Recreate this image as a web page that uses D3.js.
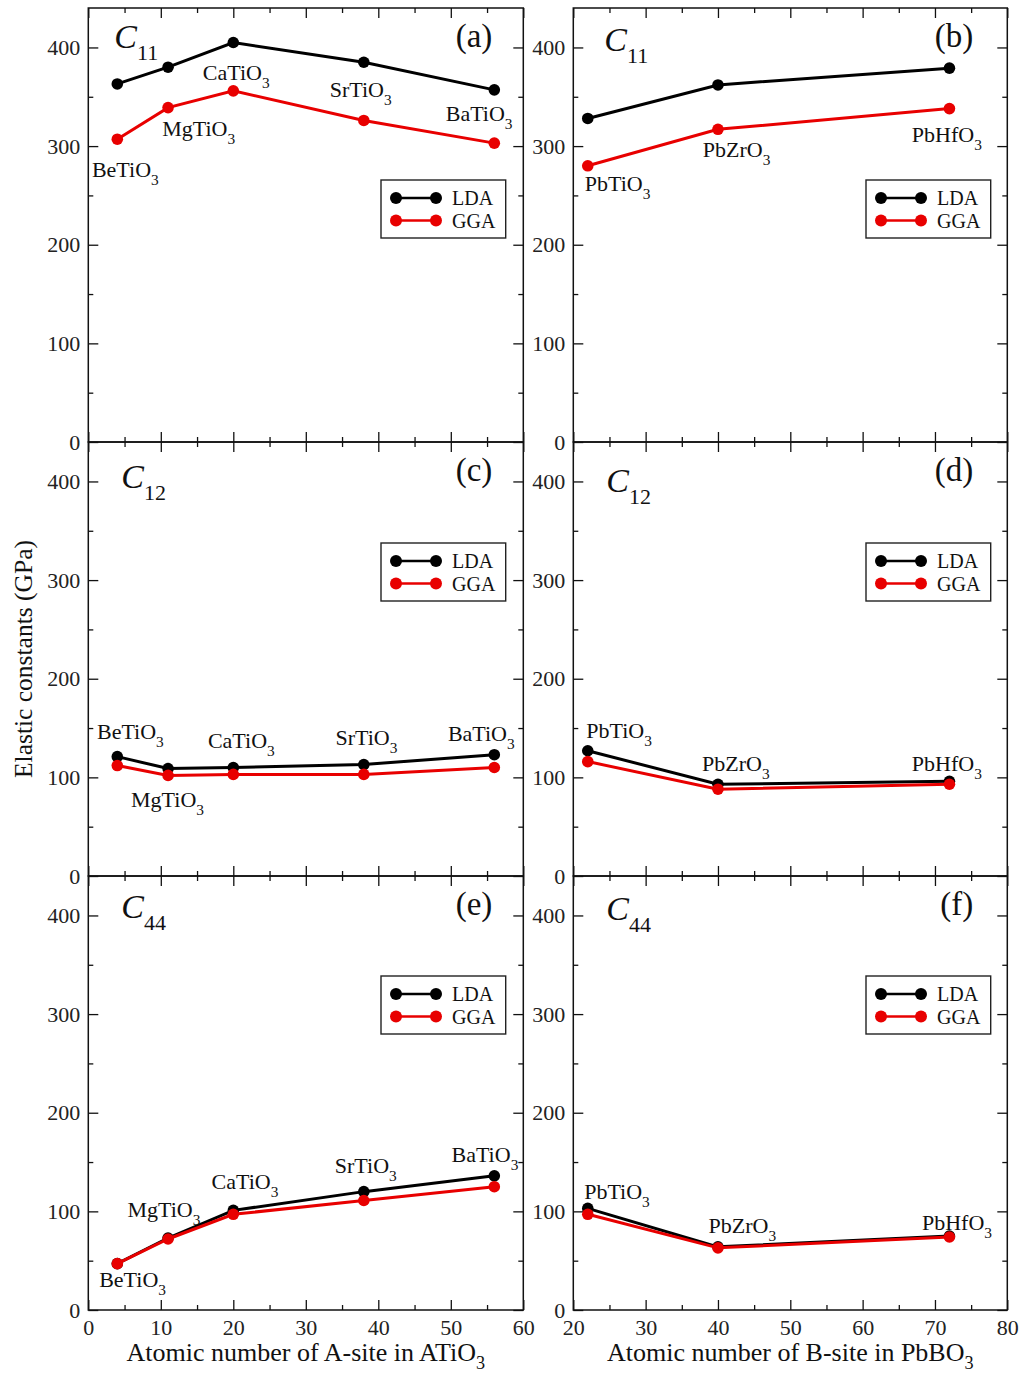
<!DOCTYPE html>
<html>
<head>
<meta charset="utf-8">
<script src="https://cdn.jsdelivr.net/npm/d3@7"></script>
<style>
  body { margin: 0; background: #fff; }
  svg { display: block; font-family: "Liberation Serif", "Times New Roman", serif; }
</style>
</head>
<body>
<svg width="1024" height="1376"></svg>
<script>
const width = 1024, height = 1376;
const svg = d3.select("svg");

// atomic numbers and compounds
const aSiteZ = [4, 11, 20, 38, 56];
const bSiteZ = [22, 40, 72];
const aSiteNames = ["BeTiO", "MgTiO", "CaTiO", "SrTiO", "BaTiO"];
const bSiteNames = ["PbTiO", "PbZrO", "PbHfO"];

// elastic constants (GPa)
const c11A_LDA = [363, 380, 405, 385, 357];
const c11A_GGA = [307, 339, 356, 326, 303];
const c11B_LDA = [328, 362, 379];
const c11B_GGA = [280, 317, 338];
const c12A_LDA = [121, 109, 110, 113, 123];
const c12A_GGA = [112, 102, 103, 103, 110];
const c12B_LDA = [127, 93, 96];
const c12B_GGA = [116, 88, 93];
const c44A_LDA = [47, 73, 101, 120, 136];
const c44A_GGA = [47, 72, 97, 111, 125];
const c44B_LDA = [103, 64, 75];
const c44B_GGA = [97, 63, 74];

// ticks
const xTicksA = [0, 10, 20, 30, 40, 50, 60];
const xTicksB = [20, 30, 40, 50, 60, 70, 80];
const yTicks = [0, 100, 200, 300, 400];
const seriesNames = ["LDA", "GGA"];
const seriesColors = ["#000000", "#e80000"];

// where the compound names sit, in data units [x, y]
const labC11A = [[0.5, 269], [10.2, 310], [15.8, 367], [33.3, 350], [49.3, 325]];
const labC11B = [[21.6, 254], [37.9, 289], [66.8, 304]];
const labC12A = [[1.2, 139], [5.9, 70], [16.5, 130], [34.1, 133], [49.6, 137]];
const labC12B = [[21.8, 140], [37.8, 106], [66.8, 106]];
const labC44A = [[1.5, 23], [5.4, 94], [17.0, 123], [34.0, 139], [50.1, 150]];
const labC44B = [[21.5, 113], [38.7, 78], [68.2, 81]];

// layout
const colX = [[88.3, 523.3], [573.3, 1007.3]];
const rowTop = [8, 442, 876];
const rowH = 434;
const xDomains = [[0, 60], [20, 80]];
const legendTop = [172, 101, 100];
const letterRight = [31, 34];

const panels = [
  { row: 0, col: 0, sub: "11", letter: "(a)", lda: c11A_LDA, gga: c11A_GGA, lab: labC11A, tdx: 26, tdy: 40 },
  { row: 0, col: 1, sub: "11", letter: "(b)", lda: c11B_LDA, gga: c11B_GGA, lab: labC11B, tdx: 31, tdy: 43 },
  { row: 1, col: 0, sub: "12", letter: "(c)", lda: c12A_LDA, gga: c12A_GGA, lab: labC12A, tdx: 33, tdy: 46 },
  { row: 1, col: 1, sub: "12", letter: "(d)", lda: c12B_LDA, gga: c12B_GGA, lab: labC12B, tdx: 33, tdy: 50 },
  { row: 2, col: 0, sub: "44", letter: "(e)", lda: c44A_LDA, gga: c44A_GGA, lab: labC44A, tdx: 33, tdy: 42 },
  { row: 2, col: 1, sub: "44", letter: "(f)", lda: c44B_LDA, gga: c44B_GGA, lab: labC44B, tdx: 33, tdy: 44 }
];

// text with a subscript "3"
function formula(sel, name, size) {
  sel.append("tspan").text(name);
  sel.append("tspan")
    .attr("dy", 8)
    .attr("font-size", size * 0.7)
    .text("3");
}

function styleAxis(g, fontSize) {
  g.select(".domain").remove();
  g.selectAll(".tick line").attr("stroke", "#111").attr("stroke-width", 1.3);
  g.selectAll(".tick text")
    .attr("fill", "#222")
    .attr("font-size", fontSize)
    .attr("font-family", "Liberation Serif, Times New Roman, serif");
}

panels.forEach(p => {
  const [x0, x1] = colX[p.col];
  const y0 = rowTop[p.row], y1 = y0 + rowH;
  const x = d3.scaleLinear().domain(xDomains[p.col]).range([x0, x1]);
  const y = d3.scaleLinear().domain([0, 440]).range([y1, y0]);
  const zs = p.col === 0 ? aSiteZ : bSiteZ;
  const names = p.col === 0 ? aSiteNames : bSiteNames;
  const xMajor = p.col === 0 ? xTicksA : xTicksB;
  const xMinor = x.ticks(12).filter(v => v % 10 !== 0);
  const yMinor = y.ticks(8).filter(v => v % 100 !== 0);

  const g = svg.append("g");

  // === ticks on all four sides, pointing inward ===
  g.append("g")
    .attr("transform", `translate(0,${y1})`)
    .call(d3.axisBottom(x).tickValues(xMajor).tickSize(-10).tickPadding(9)
      .tickFormat(p.row === 2 ? d3.format("d") : ""))
    .call(a => styleAxis(a, 22));
  g.append("g")
    .attr("transform", `translate(0,${y1})`)
    .call(d3.axisBottom(x).tickValues(xMinor).tickSize(-5).tickFormat(""))
    .call(a => styleAxis(a, 22));
  g.append("g")
    .attr("transform", `translate(0,${y0})`)
    .call(d3.axisTop(x).tickValues(xMajor).tickSize(-10).tickFormat(""))
    .call(a => styleAxis(a, 22));
  g.append("g")
    .attr("transform", `translate(0,${y0})`)
    .call(d3.axisTop(x).tickValues(xMinor).tickSize(-5).tickFormat(""))
    .call(a => styleAxis(a, 22));

  g.append("g")
    .attr("transform", `translate(${x0},0)`)
    .call(d3.axisLeft(y).tickValues(yTicks).tickSize(-10).tickPadding(8).tickFormat(d3.format("d")))
    .call(a => styleAxis(a, 22));
  g.append("g")
    .attr("transform", `translate(${x0},0)`)
    .call(d3.axisLeft(y).tickValues(yMinor).tickSize(-5).tickFormat(""))
    .call(a => styleAxis(a, 22));
  g.append("g")
    .attr("transform", `translate(${x1},0)`)
    .call(d3.axisRight(y).tickValues(yTicks).tickSize(-10).tickFormat(""))
    .call(a => styleAxis(a, 22));
  g.append("g")
    .attr("transform", `translate(${x1},0)`)
    .call(d3.axisRight(y).tickValues(yMinor).tickSize(-5).tickFormat(""))
    .call(a => styleAxis(a, 22));

  // frame
  g.append("rect")
    .attr("x", x0)
    .attr("y", y0)
    .attr("width", x1 - x0)
    .attr("height", y1 - y0)
    .attr("fill", "none")
    .attr("stroke", "#111")
    .attr("stroke-width", 1.5);

  // === lines + markers ===
  const line = d3.line().x(d => x(d[0])).y(d => y(d[1]));
  [p.lda, p.gga].forEach((vals, i) => {
    const pts = zs.map((z, j) => [z, vals[j]]);
    g.append("path")
      .datum(pts)
      .attr("d", line)
      .attr("fill", "none")
      .attr("stroke", seriesColors[i])
      .attr("stroke-width", 3);
    g.selectAll(null)
      .data(pts)
      .enter()
      .append("circle")
      .attr("cx", d => x(d[0]))
      .attr("cy", d => y(d[1]))
      .attr("r", 5.8)
      .attr("fill", seriesColors[i]);
  });

  // compound names
  names.forEach((n, j) => {
    g.append("text")
      .attr("x", x(p.lab[j][0]))
      .attr("y", y(p.lab[j][1]))
      .attr("font-size", 22)
      .attr("fill", "#111")
      .call(t => formula(t, n, 22));
  });

  // panel title C_ij
  const title = g.append("text")
    .attr("x", x0 + p.tdx)
    .attr("y", y0 + p.tdy)
    .attr("fill", "#111");
  title.append("tspan")
    .attr("font-size", 34)
    .attr("font-style", "italic")
    .text("C");
  title.append("tspan")
    .attr("font-size", 22)
    .attr("dy", 12)
    .text(p.sub);

  g.append("text")
    .attr("x", x1 - letterRight[p.col])
    .attr("y", y0 + 39)
    .attr("text-anchor", "end")
    .attr("font-size", 33)
    .attr("fill", "#111")
    .text(p.letter);

  // === legend ===
  const lx = x0 + 292.7, ly = y0 + legendTop[p.row];
  const leg = g.append("g").attr("transform", `translate(${lx},${ly})`);
  leg.append("rect")
    .attr("width", 124.7)
    .attr("height", 58)
    .attr("fill", "#fff")
    .attr("stroke", "#222")
    .attr("stroke-width", 1.4);
  seriesNames.forEach((s, i) => {
    const yy = 18 + i * 22.5;
    leg.append("line")
      .attr("x1", 15).attr("x2", 55)
      .attr("y1", yy).attr("y2", yy)
      .attr("stroke", seriesColors[i])
      .attr("stroke-width", 2.6);
    leg.selectAll(null)
      .data([15, 55])
      .enter()
      .append("circle")
      .attr("cx", d => d)
      .attr("cy", yy)
      .attr("r", 6)
      .attr("fill", seriesColors[i]);
    leg.append("text")
      .attr("x", 71)
      .attr("y", yy + 7)
      .attr("font-size", 20)
      .attr("fill", "#111")
      .text(s);
  });
});

// === axis titles ===
svg.append("text")
  .attr("transform", "translate(32,659) rotate(-90)")
  .attr("text-anchor", "middle")
  .attr("font-size", 25.5)
  .attr("fill", "#111")
  .text("Elastic constants (GPa)");

const xt1 = svg.append("text")
  .attr("x", (colX[0][0] + colX[0][1]) / 2)
  .attr("y", 1361)
  .attr("text-anchor", "middle")
  .attr("font-size", 26)
  .attr("fill", "#111");
formula(xt1, "Atomic number of A-site in ATiO", 26);

const xt2 = svg.append("text")
  .attr("x", (colX[1][0] + colX[1][1]) / 2)
  .attr("y", 1361)
  .attr("text-anchor", "middle")
  .attr("font-size", 26)
  .attr("fill", "#111");
formula(xt2, "Atomic number of B-site in PbBO", 26);
</script>
</body>
</html>
